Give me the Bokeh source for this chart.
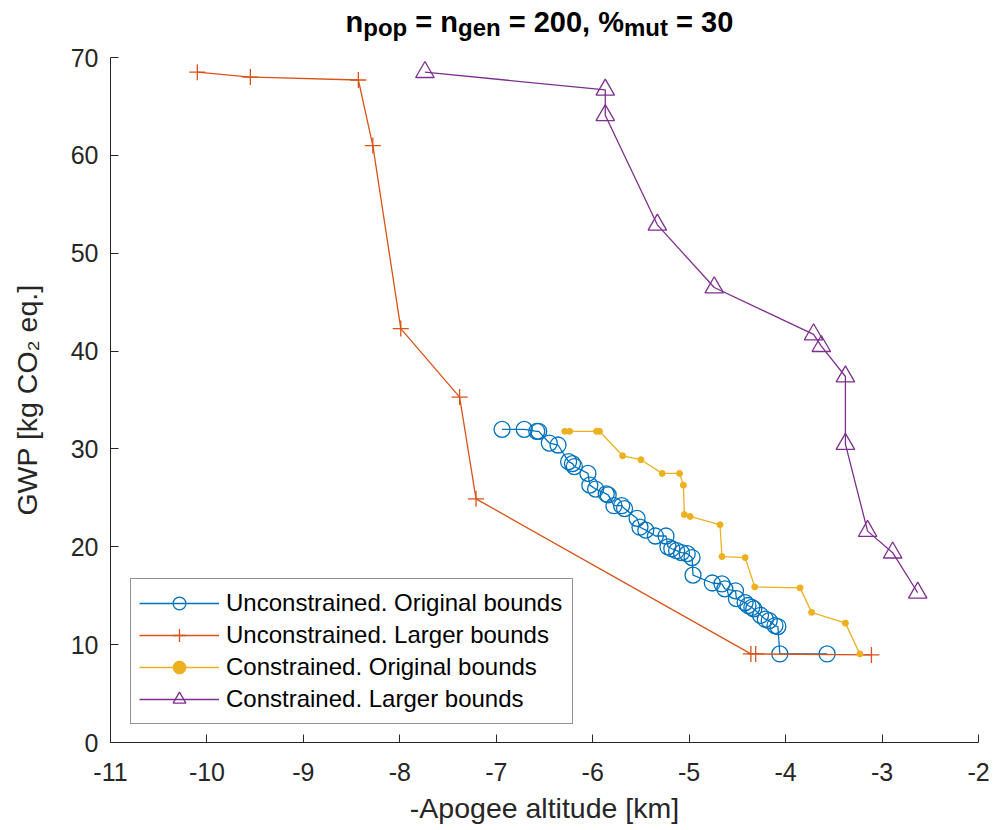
from bokeh.plotting import figure
from bokeh.models import Legend, LegendItem, FixedTicker
from bokeh.layouts import column
from bokeh.core.properties import value
from bokeh.embed import file_html
from bokeh.resources import INLINE

# ---------------- data ----------------
uo_x = [-6.94, -6.71, -6.58, -6.56, -6.45, -6.36, -6.25, -6.21, -6.19, -6.05, -6.03, -5.97,
        -5.86, -5.84, -5.78, -5.70, -5.67, -5.54, -5.51, -5.45, -5.35, -5.24, -5.22, -5.18,
        -5.13, -5.08, -5.02, -4.97, -4.96, -4.76, -4.66, -4.63, -4.52, -4.51, -4.42, -4.39,
        -4.35, -4.33, -4.26, -4.21, -4.17, -4.11, -4.08, -4.06, -3.57]
uo_y = [32.0, 32.0, 31.8, 31.8, 30.6, 30.4, 28.7, 28.5, 28.2, 27.5, 26.3, 25.9,
        25.4, 25.3, 24.2, 24.2, 23.9, 22.9, 22.0, 21.7, 21.1, 21.1, 20.0, 19.8,
        19.6, 19.4, 19.3, 18.9, 17.1, 16.3, 16.2, 15.7, 15.5, 14.7, 14.3, 14.0,
        13.8, 13.65, 13.0, 12.6, 12.45, 11.95, 11.85, 9.05, 9.05]

ul_x = [-10.10, -9.55, -8.43, -8.28, -7.99, -7.38, -7.21, -4.36, -4.31, -3.11]
ul_y = [68.5, 68.0, 67.7, 61.0, 42.3, 35.3, 24.9, 9.05, 9.05, 8.95]

co_x = [-6.29, -6.24, -5.96, -5.93, -5.69, -5.50, -5.28, -5.10, -5.06, -5.05, -4.99,
        -4.68, -4.66, -4.42, -4.32, -3.85, -3.73, -3.38, -3.23]
co_y = [31.8, 31.8, 31.8, 31.8, 29.3, 28.9, 27.5, 27.5, 26.3, 23.3, 23.1,
        22.25, 19.0, 18.9, 15.9, 15.8, 13.3, 12.2, 9.05]

cl_x = [-7.74, -5.87, -5.87, -5.33, -4.74, -3.71, -3.63, -3.38, -3.38, -3.15, -2.89, -2.63]
cl_y = [68.5, 66.7, 64.1, 52.9, 46.5, 41.7, 40.5, 37.4, 30.5, 21.6, 19.4, 15.3]

series_names = ["Unconstrained. Original bounds", "Unconstrained. Larger bounds",
                "Constrained. Original bounds", "Constrained. Larger bounds"]
title_parts = [("n", False), ("pop", True), (" = n", False), ("gen", True),
               (" = 200, %", False), ("mut", True), (" = 30", False)]
ylabel = "GWP [kg CO\u2082 eq.]"
xlabel = "-Apogee altitude [km]"
x_ticks = list(range(-11, -1))
y_ticks = list(range(0, 71, 10))
X0, X1, Y0, Y1 = -11, -2, 0, 70

# ---------------- layout geometry (canvas px) ----------------
W, H = 1004, 830
FL, FR, FT, FB = 110, 978, 57, 742
TH = 43  # height of the title strip

ARIAL_B = {'n': 611, 'p': 611, 'o': 611, ' ': 278, '=': 584, 'g': 611, 'e': 556, '2': 556,
           '0': 556, ',': 278, '%': 889, 'm': 889, 'u': 611, 't': 333, '3': 556}

def tw(s, size):
    return sum(ARIAL_B[c] for c in s) * size / 1000.0

# ---------------- title strip (its frame is aligned with the main frame: FL..FR) ----------------
tfig = figure(width=W, height=TH, x_range=(FL, FR), y_range=(0, TH), title=None,
              output_backend="svg", toolbar_location=None, x_axis_type=None, y_axis_type=None,
              min_border_left=FL, min_border_right=W - FR, min_border_top=0, min_border_bottom=0)
tfig.outline_line_color = None
tfig.background_fill_color = "white"
tfig.border_fill_color = "white"

TF, TS = 29, 24
MAIN_BASE, SUB_BASE = 21, 26.5   # baseline positions (px from the strip top, before renderer offset)
cx = 345.0
main_x, main_t, sub_x, sub_t = [], [], [], []
for txt, sub in title_parts:
    fs = TS if sub else TF
    stripped = txt.lstrip(" ")
    lead = tw(txt[:len(txt) - len(stripped)], fs)
    if sub:
        sub_x.append(cx + lead); sub_t.append(stripped)
    else:
        main_x.append(cx + lead); main_t.append(stripped)
    cx += tw(txt, fs)
tfig.text(x=main_x, y=[TH - MAIN_BASE] * len(main_x), text=main_t,
          text_font=value("Liberation Sans"), text_font_style="bold",
          text_font_size=f"{TF}px", text_color="black",
          text_align="left", text_baseline="alphabetic")
tfig.text(x=sub_x, y=[TH - SUB_BASE] * len(sub_x), text=sub_t,
          text_font=value("Liberation Sans"), text_font_style="bold",
          text_font_size=f"{TS}px", text_color="black",
          text_align="left", text_baseline="alphabetic")

# ---------------- main plot ----------------
p = figure(width=W, height=H - TH, x_range=(X0, X1), y_range=(Y0, Y1), title=None,
           output_backend="svg", toolbar_location=None,
           min_border_left=FL, min_border_right=W - FR, min_border_top=FT - TH,
           min_border_bottom=H - FB)
p.grid.visible = False
p.outline_line_color = None
p.background_fill_color = "white"
p.border_fill_color = "white"

for ax in (p.xaxis[0], p.yaxis[0]):
    ax.axis_line_color = "#262626"
    ax.major_tick_line_color = "#262626"
    ax.minor_tick_line_color = None
    ax.major_tick_in = 8
    ax.major_tick_out = 0
    ax.major_label_text_font = "Liberation Sans"
    ax.major_label_text_font_size = "25px"
    ax.major_label_text_color = "#262626"
    ax.axis_label_text_font = "Liberation Sans"
    ax.axis_label_text_font_size = "28.5px"
    ax.axis_label_text_font_style = "normal"
    ax.axis_label_text_color = "#262626"
p.xaxis.ticker = FixedTicker(ticks=x_ticks)
p.yaxis.ticker = FixedTicker(ticks=y_ticks)
p.xaxis.major_label_overrides = {t: str(t) for t in x_ticks}
p.yaxis.major_label_overrides = {t: str(t) for t in y_ticks}
p.xaxis.major_label_standoff = 20
p.yaxis.major_label_standoff = 12
p.xaxis.axis_label = xlabel
p.xaxis.axis_label_standoff = 8
p.yaxis.axis_label = ylabel
p.yaxis.axis_label_standoff = 25

BLUE, ORANGE, YELLOW, PURPLE = "#0072BD", "#D95319", "#EDB120", "#7E2F8E"
LW = 1.3

l1 = p.line(uo_x, uo_y, line_color=BLUE, line_width=LW)
m1 = p.scatter(uo_x, uo_y, marker="circle", size=16, fill_color=None, line_color=BLUE, line_width=1.3)
l2 = p.line(ul_x, ul_y, line_color=ORANGE, line_width=LW)
m2 = p.scatter(ul_x, ul_y, marker="cross", size=16, line_color=ORANGE, line_width=1.3)
l3 = p.line(co_x, co_y, line_color=YELLOW, line_width=LW)
m3 = p.scatter(co_x, co_y, marker="circle", size=6, fill_color=YELLOW, line_color=YELLOW)
l4 = p.line(cl_x, cl_y, line_color=PURPLE, line_width=LW)
m4 = p.scatter(cl_x, cl_y, marker="triangle", size=18.5, fill_color=None, line_color=PURPLE, line_width=1.3)

legend = Legend(items=[LegendItem(label=series_names[0], renderers=[l1, m1]),
                       LegendItem(label=series_names[1], renderers=[l2, m2]),
                       LegendItem(label=series_names[2], renderers=[l3, m3]),
                       LegendItem(label=series_names[3], renderers=[l4, m4])],
                location=(20, 18), glyph_width=80, glyph_height=32, label_height=32,
                spacing=0, padding=8, margin=0, label_standoff=7, label_width=338,
                label_text_font="Liberation Sans", label_text_font_size="24px",
                label_text_color="black",
                border_line_color="#262626", border_line_width=1,
                background_fill_color="white", background_fill_alpha=1)
p.add_layout(legend)

layout = column(tfig, p)
open("out.html", "w").write(file_html(layout, INLINE))
